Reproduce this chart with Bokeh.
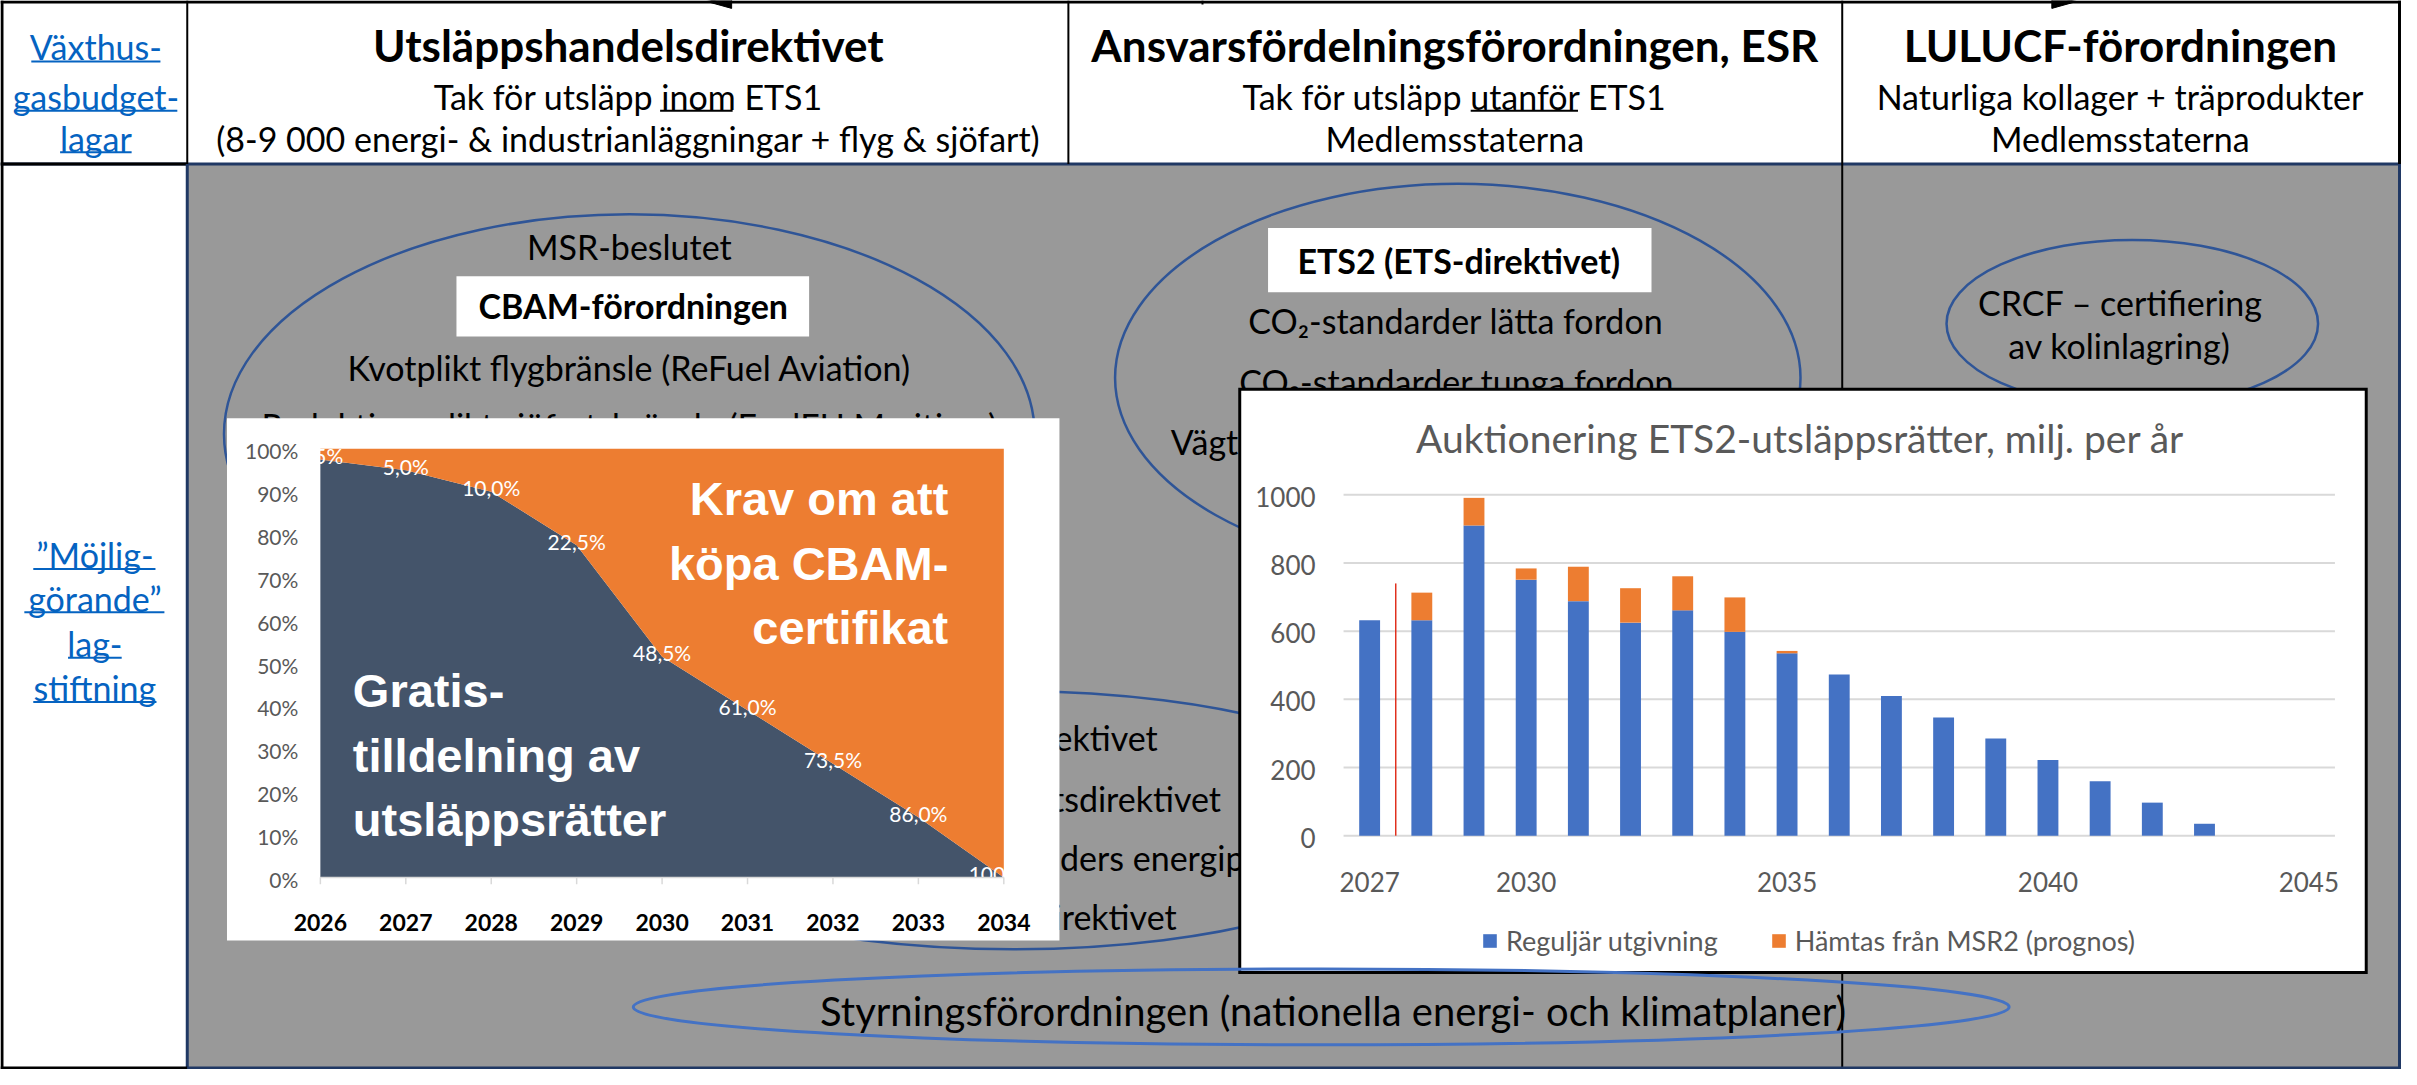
from bokeh.plotting import figure
from bokeh.models import Range1d, ColumnDataSource, Legend, LegendItem
from bokeh.transform import stack
from bokeh.embed import file_html
from bokeh.resources import INLINE
from bokeh.core.properties import value

# ---------------- data ----------------
# CBAM phase-in: share (%) that must be covered by CBAM certificates
cbam_years = [2026, 2027, 2028, 2029, 2030, 2031, 2032, 2033, 2034]
cbam_share = [2.5, 5.0, 10.0, 22.5, 48.5, 61.0, 73.5, 86.0, 100.0]
cbam_share_labels = ["2,5%", "5,0%", "10,0%", "22,5%", "48,5%", "61,0%", "73,5%", "86,0%", "100,0%"]
cbam_y_ticks = [0, 10, 20, 30, 40, 50, 60, 70, 80, 90, 100]
cbam_y_labels = ["0%", "10%", "20%", "30%", "40%", "50%", "60%", "70%", "80%", "90%", "100%"]

# ETS2 auctioning, million allowances per year
ets2_years = [2027, 2028, 2029, 2030, 2031, 2032, 2033, 2034, 2035,
              2036, 2037, 2038, 2039, 2040, 2041, 2042, 2043]
ets2_regular = [632, 632, 910, 751, 688, 625, 661, 598, 535,
                473, 410, 347, 285, 222, 160, 97, 35]
ets2_msr2 = [0, 81, 81, 33, 101, 101, 100, 101, 7,
             0, 0, 0, 0, 0, 0, 0, 0]
ets2_x_ticks = [2027, 2030, 2035, 2040, 2045]
ets2_y_ticks = [0, 200, 400, 600, 800, 1000]
ets2_marker_year = [2027.5]
ets2_marker_top = [740]

ets2_title = "Auktionering ETS2-utsläppsrätter, milj. per år"
ets2_series = ["Reguljär utgivning", "Hämtas från MSR2 (prognos)"]

# ---------------- page geometry (reference pixels) ----------------
REF_W, REF_H = 2417, 1085
PAGE_W, PAGE_H = 2401, 1069
SX, SY = PAGE_W / REF_W, PAGE_H / REF_H
FONT = value("Lato")
FONT_NAME = "Lato"
ARIAL = value("Liberation Sans")

GRAY = "#999999"
NAVY = "#203864"
ELL = "#2F5597"
LINK = "#0563C1"
C_NAVY = "#44546A"
ORANGE = "#ED7D31"
BLUE = "#4472C4"
TXT_GRAY = "#595959"
GRID = "#D9D9D9"

main = figure(width=PAGE_W, height=PAGE_H, x_range=Range1d(0, REF_W), y_range=Range1d(REF_H, 0),
              output_backend="svg", toolbar_location=None, min_border=0)
main.axis.visible = False
main.grid.visible = False
main.outline_line_color = None
main.background_fill_color = "white"
main.border_fill_color = "white"

# gray body
main.quad(left=[188], right=[2415], top=[166], bottom=[1084], fill_color=GRAY, line_color=None)

# white label boxes
main.quad(left=[459, 1276], right=[814, 1662], top=[280, 231], bottom=[341, 296],
          fill_color="white", line_color=None)

# ellipses (behind the insets)
main.ellipse(x=[633, 1467, 2146, 1020], y=[440, 383, 328, 832],
             width=[816, 690, 374, 818], height=[446, 394, 170, 262],
             fill_color=None, line_color=ELL, line_width=2.5)


def seg(x0, y0, x1, y1, color, w):
    main.segment(x0=[x0], y0=[y0], x1=[x1], y1=[y1], line_color=color, line_width=w)


seg(0, 166, REF_W, 166, NAVY, 3)
seg(0, 166, 188, 166, "black", 3)
seg(188, 0, 188, 166, "black", 2)
seg(188, 166, 188, REF_H, NAVY, 3)
seg(1075, 0, 1075, 166, "black", 2)
seg(1854, 0, 1854, REF_H, "black", 2)
seg(0, 1.5, REF_W, 1.5, "black", 3)
seg(1.5, 0, 1.5, REF_H, "black", 3)
seg(0, 1083.5, 188, 1083.5, "black", 3)
seg(188, 1083.5, REF_W, 1083.5, NAVY, 3)
seg(2415, 0, 2415, 166, "black", 3)
seg(2415, 166, 2415, REF_H, NAVY, 3)
seg(1210, 0, 1210, 4, "black", 2)
main.patches(xs=[[711, 736, 736], [2090, 2065, 2065]], ys=[[1, -4, 8], [1, -4, 8]],
             fill_color="black", line_color="black")


def add_texts(plot, items, size, color="black", bold=False, align="center", font=FONT):
    src = ColumnDataSource(dict(x=[i[0] for i in items], y=[i[1] for i in items],
                                t=[i[2] for i in items]))
    plot.text(x="x", y="y", text="t", source=src, text_align=align, text_baseline="middle",
              text_font=font, text_font_size=f"{size}px", text_color=color,
              text_font_style="bold" if bold else "normal")


add_texts(main, [(632, 45, "Utsläppshandelsdirektivet"),
                 (1464, 45, "Ansvarsfördelningsförordningen, ESR"),
                 (2134, 45, "LULUCF-förordningen")], 44, bold=True)
add_texts(main, [(632, 97, "Tak för utsläpp inom ETS1"),
                 (632, 140, "(8-9 000 energi- & industrianläggningar + flyg & sjöfart)"),
                 (1464, 97, "Tak för utsläpp utanför ETS1"),
                 (1464, 140, "Medlemsstaterna"),
                 (2134, 97, "Naturliga kollager + träprodukter"),
                 (2134, 140, "Medlemsstaterna"),
                 (633, 250, "MSR-beslutet"),
                 (633, 373, "Kvotplikt flygbränsle (ReFuel Aviation)"),
                 (633, 431, "Reduktionsplikt sjöfartsbränsle (FuelEU Maritime)"),
                 (1465, 325, "CO₂-standarder lätta fordon"),
                 (1466, 387, "CO₂-standarder tunga fordon"),
                 (2134, 307, "CRCF – certifiering"),
                 (2133, 350, "av kolinlagring)"),
                 (1020, 748, "Förnybartdirektivet"),
                 (1020, 810, "Energieffektivitetsdirektivet"),
                 (1020, 930, "Energiskattedirektivet")], 34)
add_texts(main, [(1178, 448, "Vägtullsdirektivet (Eurovignett)"),
                 (956, 870, "Byggnaders energiprestanda")], 34, align="left")
add_texts(main, [(825, 1026, "Styrningsförordningen (nationella energi- och klimatplaner)")],
          40, align="left")
add_texts(main, [(637, 310, "CBAM-förordningen"), (1468, 264, "ETS2 (ETS-direktivet)")], 34, bold=True)
add_texts(main, [(96, 47, "Växthus-"), (96, 97, "gasbudget-"), (96, 140, "lagar"),
                 (95, 562, "”Möjlig-"), (95, 607, "görande”"), (95, 653, "lag-"),
                 (95, 697, "stiftning")], 34, color=LINK)

# underlines
main.segment(x0=[31, 14, 60, 33, 24, 68, 33], x1=[161, 178, 132, 156, 165, 122, 157],
             y0=[62, 112, 154, 577, 621, 667, 712], y1=[62, 112, 154, 577, 621, 667, 712],
             line_color=LINK, line_width=2)
main.segment(x0=[664, 1480], x1=[737, 1588], y0=[112, 112], y1=[112, 112],
             line_color="black", line_width=2)

# ================= CBAM inset =================
main.quad(left=[228], right=[1066], top=[424], bottom=[954], fill_color="white", line_color=None)
cb = main.subplot(x_source=Range1d(2026, 2034), y_source=Range1d(0, 100),
                  x_target=Range1d(322, 1010), y_target=Range1d(890, 455))
csrc = ColumnDataSource(dict(year=cbam_years,
                             gratis=[100 - v for v in cbam_share],
                             cbam=cbam_share,
                             label=cbam_share_labels))
cb.varea(x="year", y1=0, y2=stack("gratis"), fill_color=C_NAVY, source=csrc)
cb.varea(x="year", y1=stack("gratis"), y2=stack("gratis", "cbam"), fill_color=ORANGE, source=csrc)
cb.text(x="year", y="gratis", text="label", source=csrc, text_align="center",
        text_baseline="middle", y_offset=-4, text_color="white", text_font=FONT,
        text_font_size="21px")
cb.text(x=[2033.35], y=[73.3], text=["Krav om att\nköpa CBAM-\ncertifikat"], text_align="right",
        text_baseline="middle", text_color="white", text_font=ARIAL,
        text_font_style="bold", text_font_size="47px", text_line_height=1.22)
cb.text(x=[2026.38], y=[28.5], text=["Gratis-\ntilldelning av\nutsläppsrätter"], text_align="left",
        text_baseline="middle", text_color="white", text_font=ARIAL,
        text_font_style="bold", text_font_size="47px", text_line_height=1.22)
# axes
cb.segment(x0=[2026], x1=[2034], y0=[0], y1=[0], line_color=GRID, line_width=1.5)
cb.segment(x0=cbam_years, x1=cbam_years, y0=[0] * len(cbam_years), y1=[-1.6] * len(cbam_years),
           line_color=GRID, line_width=1.5)
cb.text(x=[2026] * len(cbam_y_ticks), y=cbam_y_ticks, text=cbam_y_labels, x_offset=-22,
        y_offset=2, text_align="right", text_baseline="middle", text_font=FONT,
        text_font_size="21px", text_color=TXT_GRAY)
cb.text(x=cbam_years, y=[0] * len(cbam_years), text=[str(v) for v in cbam_years], y_offset=45,
        text_align="center", text_baseline="middle", text_font=FONT, text_font_size="23px",
        text_font_style="bold", text_color="black")

# ================= ETS2 inset =================
main.quad(left=[1246], right=[2383], top=[393], bottom=[988], fill_color="black", line_color=None)
main.quad(left=[1249], right=[2380], top=[396], bottom=[985], fill_color="white", line_color=None)
bs = main.subplot(x_source=Range1d(2026.5, 2045.5), y_source=Range1d(0, 1000),
                  x_target=Range1d(1352, 2350), y_target=Range1d(847.7, 501.7))
n_y = len(ets2_y_ticks)
bs.segment(x0=[2026.5] * n_y, x1=[2045.5] * n_y, y0=ets2_y_ticks, y1=ets2_y_ticks,
           line_color=GRID, line_width=2)
bsrc = ColumnDataSource(dict(year=ets2_years, regular=ets2_regular, msr=ets2_msr2))
r_reg = bs.vbar(x="year", bottom=0, top=stack("regular"), width=0.4, fill_color=BLUE,
                line_color=None, source=bsrc)
r_msr = bs.vbar(x="year", bottom=stack("regular"), top=stack("regular", "msr"), width=0.4,
                fill_color=ORANGE, line_color=None, source=bsrc)
bs.segment(x0=ets2_marker_year, y0=[0], x1=ets2_marker_year, y1=ets2_marker_top,
           line_color="#E0301E", line_width=1.5)
bs.text(x=[2026.5] * n_y, y=ets2_y_ticks, text=[str(v) for v in ets2_y_ticks], x_offset=-28,
        y_offset=2, text_align="right", text_baseline="middle", text_font=FONT,
        text_font_size="26px", text_color=TXT_GRAY)
bs.text(x=ets2_x_ticks, y=[0] * len(ets2_x_ticks), text=[str(v) for v in ets2_x_ticks],
        y_offset=46, text_align="center", text_baseline="middle", text_font=FONT,
        text_font_size="26px", text_color=TXT_GRAY)
bs.text(x=[2035.25], y=[1166.8], text=[ets2_title], text_align="center", text_baseline="middle",
        text_font=FONT, text_font_size="39px", text_color=TXT_GRAY)

legend = Legend(items=[LegendItem(label=ets2_series[0], renderers=[r_reg]),
                       LegendItem(label=ets2_series[1], renderers=[r_msr])],
                location=(round(1491 * SX), 112),
                orientation="horizontal", background_fill_alpha=0, border_line_color=None,
                padding=0, margin=0, spacing=52, glyph_width=17, glyph_height=17,
                label_standoff=8, label_height=30, label_text_font=FONT_NAME,
                label_text_font_size="27px", label_text_color=TXT_GRAY,
                label_text_baseline="middle")
main.add_layout(legend)

# Styrningsförordningen ellipse (drawn on top of the ETS2 inset edge)
main.ellipse(x=[1329.5], y=[1021.5], width=[1385], height=[77],
             fill_color=None, line_color=BLUE, line_width=3)

open("out.html", "w").write(file_html(main, INLINE))
